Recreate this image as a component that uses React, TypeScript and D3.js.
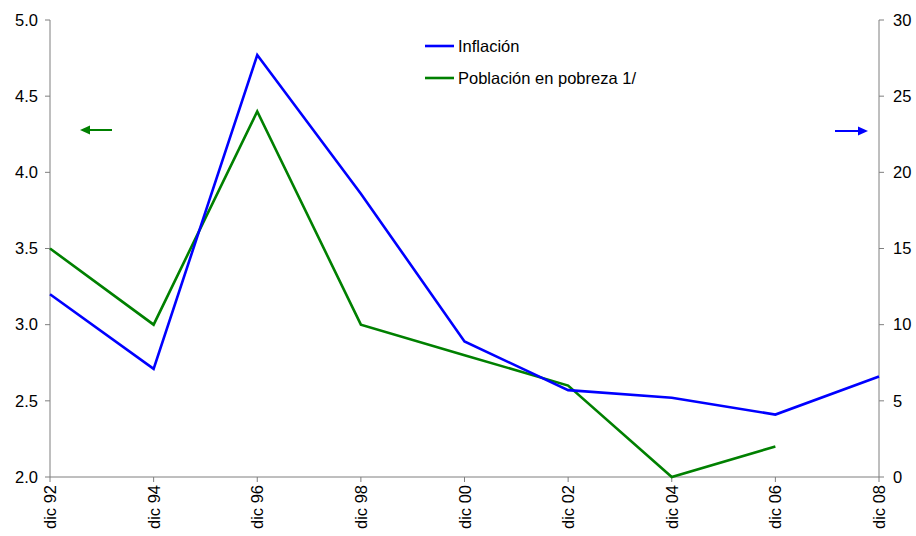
import React from "react";
import * as d3 from "d3";

const categories = ["dic 92", "dic 94", "dic 96", "dic 98", "dic 00", "dic 02", "dic 04", "dic 06", "dic 08"];
const inflacion = [12.0, 7.1, 27.7, 18.6, 8.9, 5.7, 5.2, 4.1, 6.6];
const pobreza: (number | null)[] = [3.5, 3.0, 4.4, 3.0, 2.8, 2.6, 2.0, 2.2, null];
const leftTicks = [2.0, 2.5, 3.0, 3.5, 4.0, 4.5, 5.0];
const rightTicks = [0, 5, 10, 15, 20, 25, 30];

const W = 916, H = 536;
const L = 50, R = 879, T = 20, B = 477;
const FONT = "Liberation Sans, Arial, sans-serif";
const FS = 16.5;
const AXIS = "#7f7f7f";

export default function App() {
  const x = d3.scalePoint<string>().domain(categories).range([L, R]);
  const yL = d3.scaleLinear().domain([2, 5]).range([B, T]);
  const yR = d3.scaleLinear().domain([0, 30]).range([B, T]);

  const lineInf = d3.line<number>().x((_, i) => x(categories[i])!).y((d) => yR(d));
  const linePob = d3
    .line<number | null>()
    .defined((d) => d !== null)
    .x((_, i) => x(categories[i])!)
    .y((d) => yL(d as number));

  return (
    <svg width={W} height={H} style={{ position: "absolute", left: 0, top: 0 }} fontFamily={FONT}>
      <rect width={W} height={H} fill="#fff" />
      {/* left axis */}
      <line x1={L} x2={L} y1={T} y2={B} stroke={AXIS} strokeWidth={1} />
      {leftTicks.map((t) => (
        <g key={"l" + t}>
          <line x1={L - 5} x2={L} y1={yL(t)} y2={yL(t)} stroke={AXIS} />
          <text x={L - 12} y={yL(t)} dy="0.35em" textAnchor="end" fontSize={FS} fill="#000">
            {t.toFixed(1)}
          </text>
        </g>
      ))}
      {/* right axis */}
      <line x1={R} x2={R} y1={T} y2={B} stroke={AXIS} strokeWidth={1} />
      {rightTicks.map((t) => (
        <g key={"r" + t}>
          <line x1={R} x2={R + 5} y1={yR(t)} y2={yR(t)} stroke={AXIS} />
          <text x={R + 14} y={yR(t)} dy="0.35em" textAnchor="start" fontSize={FS} fill="#000">
            {t}
          </text>
        </g>
      ))}
      {/* x axis */}
      <line x1={L} x2={R} y1={B} y2={B} stroke={AXIS} strokeWidth={1} />
      {categories.map((c) => (
        <g key={c}>
          <line x1={x(c)} x2={x(c)} y1={B} y2={B + 5} stroke={AXIS} />
          <text
            transform={`translate(${x(c)! + 6},${B + 8}) rotate(-90)`}
            textAnchor="end"
            fontSize={FS}
            fill="#000"
          >
            {c}
          </text>
        </g>
      ))}
      {/* lines */}
      <path d={linePob(pobreza)!} fill="none" stroke="#008000" strokeWidth={2.6} />
      <path d={lineInf(inflacion)!} fill="none" stroke="#0000ff" strokeWidth={2.6} />
      {/* arrows */}
      <line x1={88} x2={112} y1={130} y2={130} stroke="#008000" strokeWidth={2} />
      <path d="M80,130 L90,125.5 L90,134.5 Z" fill="#008000" />
      <line x1={835} x2={860} y1={131} y2={131} stroke="#0000ff" strokeWidth={2} />
      <path d="M868,131 L858,126.5 L858,135.5 Z" fill="#0000ff" />
      {/* legend */}
      <line x1={425} x2={454} y1={46} y2={46} stroke="#0000ff" strokeWidth={2.6} />
      <text x={458} y={46} dy="0.35em" fontSize={FS} fill="#000">Inflación</text>
      <line x1={425} x2={454} y1={78} y2={78} stroke="#008000" strokeWidth={2.6} />
      <text x={458} y={78} dy="0.35em" fontSize={FS} fill="#000">Población en pobreza 1/</text>
    </svg>
  );
}
